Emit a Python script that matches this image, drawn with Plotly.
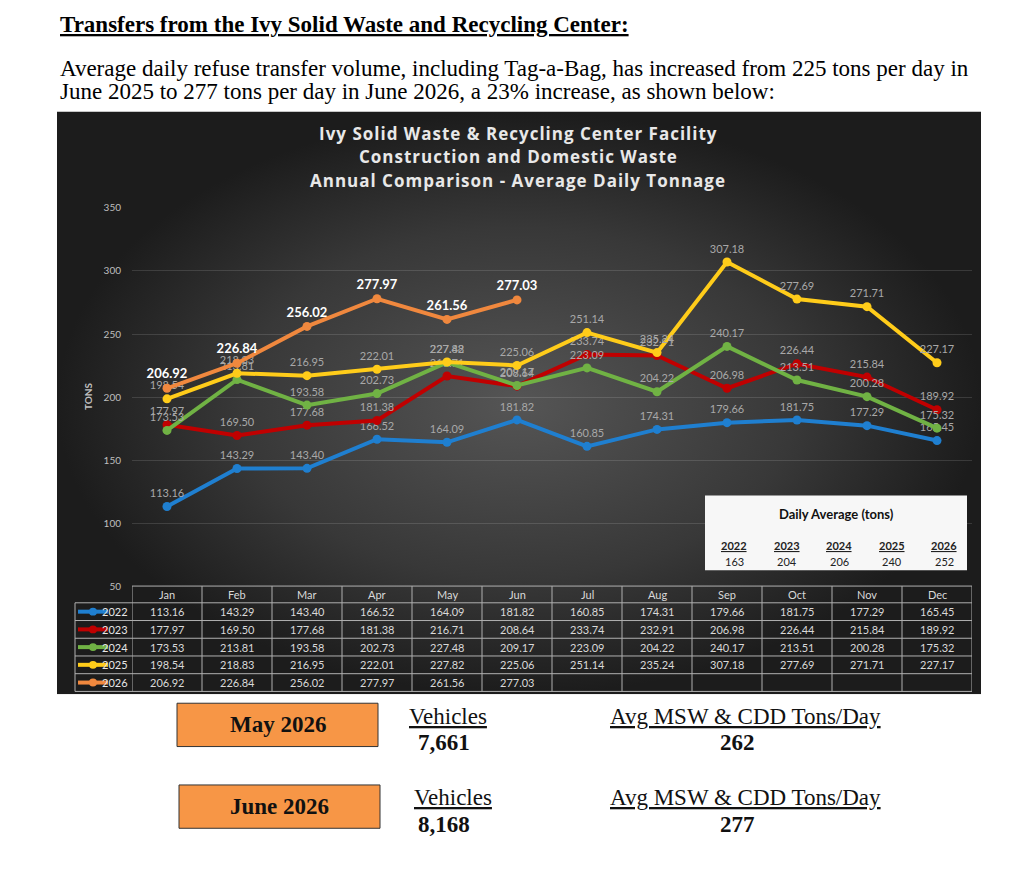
import plotly.graph_objects as go

# page body has an 8px margin, so the figure is drawn 8px in from the corner
OFF = 8
W, H = 1010, 844

def px(x):
    return (x - OFF) / W

def py(y):
    return 1 - (y - OFF) / H

months = ["Jan", "Feb", "Mar", "Apr", "May", "Jun", "Jul", "Aug", "Sep", "Oct", "Nov", "Dec"]
years = ["2022", "2023", "2024", "2025", "2026"]
t2022 = [113.16, 143.29, 143.40, 166.52, 164.09, 181.82, 160.85, 174.31, 179.66, 181.75, 177.29, 165.45]
t2023 = [177.97, 169.50, 177.68, 181.38, 216.71, 208.64, 233.74, 232.91, 206.98, 226.44, 215.84, 189.92]
t2024 = [173.53, 213.81, 193.58, 202.73, 227.48, 209.17, 223.09, 204.22, 240.17, 213.51, 200.28, 175.32]
t2025 = [198.54, 218.83, 216.95, 222.01, 227.82, 225.06, 251.14, 235.24, 307.18, 277.69, 271.71, 227.17]
t2026 = [206.92, 226.84, 256.02, 277.97, 261.56, 277.03]
series = [t2022, t2023, t2024, t2025, t2026]
colors = ["#1F7FD0", "#C00000", "#70B244", "#FFCC1A", "#F0883E"]
daily_avg = [163, 204, 206, 240, 252]

box_months = ["May 2026", "June 2026"]
vehicles = ["7,661", "8,168"]
tons_day = [262, 277]

serif = "Liberation Serif"
sans = "Lato"

fig = go.Figure()

# dark panel with radial shading (background subplot x/y)
fig.add_trace(go.Scatter(
    x=[0, 1, 1, 0, 0], y=[0, 0, 1, 1, 0], mode="lines", fill="toself",
    line=dict(width=0, color="#262626"),
    fillgradient=dict(type="radial", colorscale=[[0, "#555555"], [0.6, "#383838"], [1, "#1c1c1c"]]),
    hoverinfo="skip", showlegend=False, xaxis="x", yaxis="y"))

for i, (yr, vals) in enumerate(zip(years, series)):
    last = yr == "2026"
    fig.add_trace(go.Scatter(
        x=months[:len(vals)], y=vals, mode="lines+markers+text",
        text=[f"{v:.2f}" for v in vals], textposition="top center",
        textfont=dict(family=sans, size=13 if last else 11,
                      color="#ffffff" if last else "#a8a8a8",
                      weight="bold" if last else "normal"),
        line=dict(color=colors[i], width=4),
        marker=dict(color=colors[i], size=9),
        name=yr, showlegend=False, xaxis="x2", yaxis="y2", hoverinfo="skip"))

shapes = []
ann = []

def note(x, y, text, size, color, family=sans, xref="paper", **kw):
    d = dict(x=x, y=y, xref=xref, yref="paper", text=text, showarrow=False,
             xanchor="center", yanchor="middle",
             font=dict(family=family, size=size, color=color))
    d.update(kw)
    ann.append(d)

# data table lines
line_c = "#b0b0b0"
rows = [588, 605, 623, 641, 659, 677, 695]
for k, yy in enumerate(rows):
    shapes.append(dict(type="line", xref="paper", yref="paper",
                       x0=px(132 if k == 0 else 75), x1=px(972), y0=py(yy), y1=py(yy),
                       line=dict(color=line_c, width=1)))
shapes.append(dict(type="line", xref="paper", yref="paper", x0=px(75), x1=px(75),
                   y0=py(605), y1=py(695), line=dict(color=line_c, width=1)))
for j in range(len(months) + 1):
    shapes.append(dict(type="line", xref="x2", yref="paper", x0=j - 0.5, x1=j - 0.5,
                       y0=py(588), y1=py(695), line=dict(color=line_c, width=1)))

for m in months:
    note(m, py(597), m, 11, "#d9d9d9", xref="x2")
for i, (yr, vals) in enumerate(zip(years, series)):
    yc = (rows[i + 1] + rows[i + 2]) / 2
    shapes.append(dict(type="line", xref="paper", yref="paper", x0=px(78), x1=px(108),
                       y0=py(yc), y1=py(yc), line=dict(color=colors[i], width=4)))
    shapes.append(dict(type="circle", xref="paper", yref="paper", x0=px(89), x1=px(97),
                       y0=py(yc - 4), y1=py(yc + 4), fillcolor=colors[i],
                       line=dict(color=colors[i], width=0)))
    note(px(130), py(yc), yr, 11, "#e6e6e6", xanchor="right")
    for j, v in enumerate(vals):
        note(months[j], py(yc), f"{v:.2f}", 11, "#d9d9d9", xref="x2")

# chart title
for k, t in enumerate(["Ivy Solid Waste & Recycling Center Facility",
                       "Construction and Domestic Waste",
                       "Annual Comparison - Average Daily Tonnage"]):
    note(px(518), py(128 + 24 * k), f'<span style="letter-spacing:1px"><b>{t}</b></span>',
         17, "#e8e8e8", family="Open Sans")

note(px(88), py(395), "<b>TONS</b>", 10, "#bfbfbf", textangle=-90)

# daily average box
shapes.append(dict(type="rect", xref="paper", yref="paper", x0=px(705), x1=px(967),
                   y0=py(572), y1=py(496), fillcolor="#f7f7f7", line=dict(width=0)))
note(px(836), py(515), "<b>Daily Average (tons)</b>", 13, "#111111")
for k, (yr, v) in enumerate(zip(years, daily_avg)):
    xx = 734 + 52.5 * k
    note(px(xx), py(547), f"<b><u>{yr}</u></b>", 11, "#222222")
    note(px(xx), py(563), str(v), 11, "#222222")

# page text above the chart
note(px(58), py(18), "<b><u>Transfers from the Ivy Solid Waste and Recycling Center:</u></b>",
     23, "#000000", family=serif, xanchor="left")
note(px(58), py(62),
     "Average daily refuse transfer volume, including Tag-a-Bag, has increased from 225 tons per day in",
     23, "#000000", family=serif, xanchor="left")
note(px(58), py(86), "June 2025 to 277 tons per day in June 2026, a 23% increase, as shown below:",
     23, "#000000", family=serif, xanchor="left")

# summary boxes below the chart
box_y = [(707, 751), (790, 834)]
box_x = [(177, 378), (179, 380)]
for k in range(2):
    (x0, x1), (y0, y1) = box_x[k], box_y[k]
    shapes.append(dict(type="rect", xref="paper", yref="paper", x0=px(x0), x1=px(x1),
                       y0=py(y1), y1=py(y0), fillcolor="#F79646", line=dict(color="#333333", width=1)))
    note(px((x0 + x1) / 2), py((y0 + y1) / 2), f"<b>{box_months[k]}</b>", 23, "#111111", family=serif)
    top = y0 + 13
    note(px(448 + 5 * k), py(top), "<u>Vehicles</u>", 23, "#111111", family=serif)
    note(px(444), py(top + 27), f"<b>{vehicles[k]}</b>", 23, "#111111", family=serif)
    note(px(745), py(top), "<u>Avg MSW & CDD Tons/Day</u>", 23, "#111111", family=serif)
    note(px(737), py(top + 27), f"<b>{tons_day[k]}</b>", 23, "#111111", family=serif)

fig.update_layout(
    width=W, height=H, margin=dict(l=0, r=0, t=0, b=0),
    paper_bgcolor="#ffffff", plot_bgcolor="rgba(0,0,0,0)",
    xaxis=dict(domain=[px(57), px(981)], range=[0, 1], visible=False, fixedrange=True),
    yaxis=dict(domain=[py(698), py(106)], range=[0, 1], visible=False, fixedrange=True),
    xaxis2=dict(domain=[px(132), px(972)], anchor="y2", type="category",
                categoryorder="array", categoryarray=months, range=[-0.5, 11.5],
                showticklabels=False, showgrid=False, zeroline=False, showline=False),
    yaxis2=dict(domain=[py(588), py(204)], anchor="x2", range=[50, 350], dtick=50,
                showgrid=True, gridcolor="rgba(255,255,255,0.13)", gridwidth=1,
                zeroline=False, showline=False, ticks="", ticklabelstandoff=10,
                tickfont=dict(family=sans, size=10, color="#bfbfbf")),
    shapes=shapes, annotations=ann, showlegend=False,
)

fig.write_html("out.html", config={"displayModeBar": False})
